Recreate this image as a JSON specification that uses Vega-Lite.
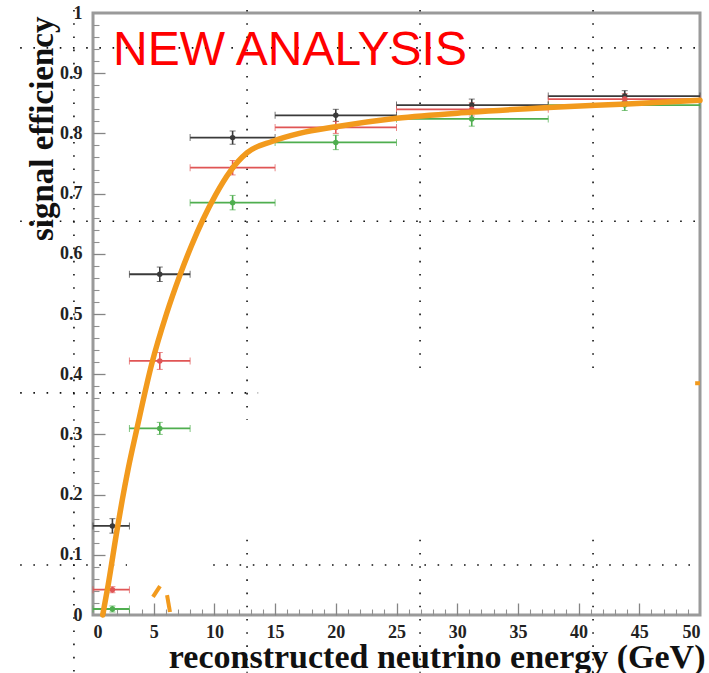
{
  "$schema": "https://vega.github.io/schema/vega-lite/v6.json",
  "autosize": "none",
  "width": 607,
  "height": 602,
  "padding": {"left": 93, "top": 13, "right": 9, "bottom": 58},
  "background": "white",
  "config": {
    "view": {"stroke": "#9a9a9a", "strokeWidth": 3},
    "axis": {"domain": false, "grid": false, "labelOverlap": false}
  },
  "resolve": {"axis": {"x": "independent", "y": "independent"}},
  "datasets": {
    "points": [
      {"series": "black", "xlo": 0, "xhi": 3, "xc": 1.6, "y": 0.148, "ylo": 0.136, "yhi": 0.160},
      {"series": "black", "xlo": 3, "xhi": 8, "xc": 5.5, "y": 0.566, "ylo": 0.554, "yhi": 0.578},
      {"series": "black", "xlo": 8, "xhi": 15, "xc": 11.5, "y": 0.793, "ylo": 0.782, "yhi": 0.804},
      {"series": "black", "xlo": 15, "xhi": 25, "xc": 20, "y": 0.830, "ylo": 0.820, "yhi": 0.840},
      {"series": "black", "xlo": 25, "xhi": 37.5, "xc": 31.2, "y": 0.847, "ylo": 0.837, "yhi": 0.857},
      {"series": "black", "xlo": 37.5, "xhi": 50, "xc": 43.8, "y": 0.862, "ylo": 0.853, "yhi": 0.871},
      {"series": "red", "xlo": 0, "xhi": 3, "xc": 1.6, "y": 0.042, "ylo": 0.037, "yhi": 0.047},
      {"series": "red", "xlo": 3, "xhi": 8, "xc": 5.5, "y": 0.422, "ylo": 0.408, "yhi": 0.436},
      {"series": "red", "xlo": 8, "xhi": 15, "xc": 11.5, "y": 0.743, "ylo": 0.731, "yhi": 0.755},
      {"series": "red", "xlo": 15, "xhi": 25, "xc": 20, "y": 0.810, "ylo": 0.800, "yhi": 0.820},
      {"series": "red", "xlo": 25, "xhi": 37.5, "xc": 31.2, "y": 0.840, "ylo": 0.829, "yhi": 0.851},
      {"series": "red", "xlo": 37.5, "xhi": 50, "xc": 43.8, "y": 0.857, "ylo": 0.848, "yhi": 0.866},
      {"series": "green", "xlo": 0, "xhi": 3, "xc": 1.6, "y": 0.010, "ylo": 0.005, "yhi": 0.015},
      {"series": "green", "xlo": 3, "xhi": 8, "xc": 5.5, "y": 0.310, "ylo": 0.300, "yhi": 0.320},
      {"series": "green", "xlo": 8, "xhi": 15, "xc": 11.5, "y": 0.685, "ylo": 0.673, "yhi": 0.697},
      {"series": "green", "xlo": 15, "xhi": 25, "xc": 20, "y": 0.785, "ylo": 0.773, "yhi": 0.797},
      {"series": "green", "xlo": 25, "xhi": 37.5, "xc": 31.2, "y": 0.824, "ylo": 0.812, "yhi": 0.836},
      {"series": "green", "xlo": 37.5, "xhi": 50, "xc": 43.8, "y": 0.847, "ylo": 0.838, "yhi": 0.856}
    ],
    "curve": [
      {"e": 0.8, "eff": 0.0},
      {"e": 1.25, "eff": 0.05},
      {"e": 1.97, "eff": 0.14},
      {"e": 2.4, "eff": 0.19},
      {"e": 2.9, "eff": 0.243},
      {"e": 3.6, "eff": 0.308},
      {"e": 4.85, "eff": 0.418},
      {"e": 6.05, "eff": 0.500},
      {"e": 7.17, "eff": 0.565},
      {"e": 8.1, "eff": 0.613},
      {"e": 9.06, "eff": 0.657},
      {"e": 10.1, "eff": 0.698},
      {"e": 11.3, "eff": 0.737},
      {"e": 12.7, "eff": 0.768},
      {"e": 14.8, "eff": 0.787},
      {"e": 17.0, "eff": 0.800},
      {"e": 20.0, "eff": 0.811},
      {"e": 25.0, "eff": 0.825},
      {"e": 31.0, "eff": 0.835},
      {"e": 37.5, "eff": 0.843},
      {"e": 44.0, "eff": 0.849},
      {"e": 50.0, "eff": 0.855}
    ],
    "bits": [
      {"seg": "a", "e": 4.94, "eff": 0.030},
      {"seg": "a", "e": 5.52, "eff": 0.048},
      {"seg": "b", "e": 6.1, "eff": 0.033},
      {"seg": "b", "e": 6.34, "eff": 0.005},
      {"seg": "c", "e": 49.6, "eff": 0.385},
      {"seg": "c", "e": 50.0, "eff": 0.385}
    ],
    "guides": [
      {"x": -1.57, "x2": -1.57, "y": 1.005, "y2": -0.096},
      {"x": 12.69, "x2": 12.69, "y": 1.005, "y2": 0.324},
      {"x": 12.69, "x2": 12.69, "y": 0.125, "y2": -0.096},
      {"x": 26.94, "x2": 26.94, "y": 1.005, "y2": 0.405},
      {"x": 26.94, "x2": 26.94, "y": 0.125, "y2": -0.096},
      {"x": 41.19, "x2": 41.19, "y": 1.005, "y2": 0.405},
      {"x": 41.19, "x2": 41.19, "y": 0.125, "y2": -0.096},
      {"x": -6.0, "x2": 50.0, "y": 0.942, "y2": 0.942},
      {"x": -6.0, "x2": 50.0, "y": 0.654, "y2": 0.654},
      {"x": -6.0, "x2": 13.6, "y": 0.369, "y2": 0.369},
      {"x": -6.0, "x2": 2.8, "y": 0.083, "y2": 0.083},
      {"x": 9.9, "x2": 50.0, "y": 0.083, "y2": 0.083}
    ],
    "label": [
      {"e": 1.65, "eff": 0.9136, "text": "NEW ANALYSIS"}
    ]
  },
  "layer": [
    {
      "data": {"name": "guides"},
      "mark": {"type": "rule", "clip": false, "color": "#111111", "strokeWidth": 1.6, "strokeDash": [1.6, 11.6]},
      "encoding": {
        "x": {
          "field": "x", "type": "quantitative",
          "scale": {"domain": [0, 50], "nice": false, "zero": false},
          "axis": {
            "orient": "bottom",
            "values": [0,5,10,15,20,25,30,35,40,45,50],
            "format": "d",
            "tickSize": 6, "tickColor": "transparent",
            "labelFont": "Liberation Serif", "labelFontWeight": "bold", "labelFontSize": 18, "labelColor": "#222222",
            "labelPadding": 2,
            "title": "reconstructed neutrino energy (GeV)",
            "titleFont": "Liberation Serif", "titleFontWeight": "bold", "titleFontSize": 34, "titleColor": "#111111",
            "titleAnchor": "end", "titleAlign": "right", "titleBaseline": "alphabetic",
            "titleX": 612, "titleY": 52
          }
        },
        "x2": {"field": "x2"},
        "y": {
          "field": "y", "type": "quantitative",
          "scale": {"domain": [0, 1], "nice": false, "zero": false},
          "axis": {
            "orient": "left",
            "values": [0,0.1,0.2,0.3,0.4,0.5,0.6,0.7,0.8,0.9,1],
            "format": ".1~f",
            "tickSize": 6, "tickColor": "transparent",
            "labelFont": "Liberation Serif", "labelFontWeight": "bold", "labelFontSize": 18, "labelColor": "#222222",
            "labelPadding": 5,
            "title": "signal efficiency",
            "titleFont": "Liberation Serif", "titleFontWeight": "bold", "titleFontSize": 33, "titleColor": "#111111",
            "titleAnchor": "end", "titleAlign": "right", "titleBaseline": "alphabetic", "titleAngle": 270,
            "titleX": -41, "titleY": 3
          }
        },
        "y2": {"field": "y2"}
      }
    },
    {
      "data": {"name": "curve"},
      "mark": {"type": "line", "opacity": 0},
      "encoding": {
        "x": {"field": "e", "type": "quantitative",
          "axis": {"orient": "bottom", "offset": -12, "values": [5,10,15,20,25,30,35,40,45], "labels": false, "title": null,
            "tickSize": 12, "tickColor": "#858585", "tickWidth": 1.3}},
        "y": {"field": "eff", "type": "quantitative",
          "axis": {"orient": "left", "offset": -12, "values": [0.1,0.2,0.3,0.4,0.5,0.6,0.7,0.8,0.9], "labels": false, "title": null,
            "tickSize": 12, "tickColor": "#858585", "tickWidth": 1.3}}
      }
    },
    {
      "data": {"name": "bits"},
      "mark": {"type": "line", "opacity": 0},
      "encoding": {
        "x": {"field": "e", "type": "quantitative",
          "axis": {"orient": "bottom", "offset": -6, "values": [1,2,3,4,6,7,8,9,11,12,13,14,16,17,18,19,21,22,23,24,26,27,28,29,31,32,33,34,36,37,38,39,41,42,43,44,46,47,48,49], "labels": false, "title": null,
            "tickSize": 6, "tickColor": "#909090", "tickWidth": 1.1}},
        "y": {"field": "eff", "type": "quantitative",
          "axis": {"orient": "left", "offset": -6, "values": [0.02,0.04,0.06,0.08,0.12,0.14,0.16,0.18,0.22,0.24,0.26,0.28,0.32,0.34,0.36,0.38,0.42,0.44,0.46,0.48,0.52,0.54,0.56,0.58,0.62,0.64,0.66,0.68,0.72,0.74,0.76,0.78,0.82,0.84,0.86,0.88,0.92,0.94,0.96,0.98], "labels": false, "title": null,
            "tickSize": 6, "tickColor": "#909090", "tickWidth": 1.1}},
        "detail": {"field": "seg", "type": "nominal"}
      }
    },
    {
      "data": {"name": "points"},
      "mark": {"type": "errorbar", "ticks": {"size": 7}, "rule": {"strokeWidth": 1.8}},
      "encoding": {
        "x": {"field": "xlo", "type": "quantitative", "axis": null},
        "x2": {"field": "xhi"},
        "y": {"field": "y", "type": "quantitative", "axis": null},
        "color": {"field": "series", "type": "nominal", "legend": null,
          "scale": {"domain": ["black", "red", "green"], "range": ["#3a3a3a", "#e05555", "#4fae4f"]}}
      }
    },
    {
      "data": {"name": "points"},
      "mark": {"type": "errorbar", "ticks": {"size": 6}, "rule": {"strokeWidth": 1.6}},
      "encoding": {
        "x": {"field": "xc", "type": "quantitative", "axis": null},
        "y": {"field": "ylo", "type": "quantitative", "axis": null},
        "y2": {"field": "yhi"},
        "color": {"field": "series", "type": "nominal", "legend": null,
          "scale": {"domain": ["black", "red", "green"], "range": ["#3a3a3a", "#e05555", "#4fae4f"]}}
      }
    },
    {
      "data": {"name": "points"},
      "mark": {"type": "point", "filled": true, "opacity": 1, "size": 30},
      "encoding": {
        "x": {"field": "xc", "type": "quantitative", "axis": null},
        "y": {"field": "y", "type": "quantitative", "axis": null},
        "color": {"field": "series", "type": "nominal", "legend": null,
          "scale": {"domain": ["black", "red", "green"], "range": ["#1a1a1a", "#e02020", "#3a9a3a"]}}
      }
    },
    {
      "data": {"name": "curve"},
      "mark": {"type": "line", "interpolate": "monotone", "color": "#f29a1d", "strokeWidth": 5.5, "strokeCap": "round", "clip": false},
      "encoding": {
        "x": {"field": "e", "type": "quantitative", "axis": null},
        "y": {"field": "eff", "type": "quantitative", "axis": null}
      }
    },
    {
      "data": {"name": "bits"},
      "mark": {"type": "line", "color": "#f29a1d", "strokeWidth": 4},
      "encoding": {
        "x": {"field": "e", "type": "quantitative", "axis": null},
        "y": {"field": "eff", "type": "quantitative", "axis": null},
        "detail": {"field": "seg", "type": "nominal"}
      }
    },
    {
      "data": {"name": "label"},
      "mark": {"type": "text", "font": "Liberation Sans", "fontSize": 48, "color": "#ff0000", "align": "left", "baseline": "alphabetic"},
      "encoding": {
        "x": {"field": "e", "type": "quantitative", "axis": null},
        "y": {"field": "eff", "type": "quantitative", "axis": null},
        "text": {"field": "text"}
      }
    }
  ]
}
